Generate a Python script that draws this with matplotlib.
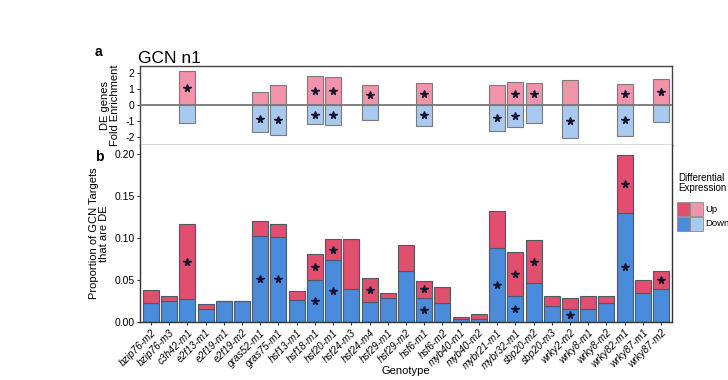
import numpy as np
import matplotlib
matplotlib.use('Agg')
from matplotlib import pyplot as plt
from matplotlib.patches import Rectangle

plt.rcParams['font.family'] = ['Liberation Sans', 'DejaVu Sans']
plt.rcParams['axes.unicode_minus'] = False

genotypes = ['bzip76-m2', 'bzip76-m3', 'c3h42-m1', 'e2f13-m1', 'e2f19-m1', 'e2f19-m2',
             'gras52-m1', 'gras75-m1', 'hsf13-m1', 'hsf18-m1', 'hsf20-m1', 'hsf24-m3',
             'hsf24-m4', 'hsf29-m1', 'hsf29-m2', 'hsf6-m1', 'hsf6-m2', 'myb40-m1',
             'myb40-m2', 'mybr21-m1', 'mybr32-m1', 'sbp20-m2', 'sbp20-m3', 'wrky2-m2',
             'wrky8-m1', 'wrky8-m2', 'wrky82-m1', 'wrky87-m1', 'wrky87-m2']

# panel b: proportion of GCN targets that are DE
prop_down = [0.022, 0.025, 0.027, 0.016, 0.025, 0.025, 0.102, 0.101, 0.026, 0.050,
             0.074, 0.039, 0.024, 0.029, 0.060, 0.029, 0.023, 0.003, 0.004, 0.088,
             0.031, 0.046, 0.019, 0.016, 0.016, 0.022, 0.130, 0.035, 0.039]
prop_up = [0.016, 0.006, 0.089, 0.005, 0.0, 0.0, 0.018, 0.015, 0.011, 0.031,
           0.024, 0.059, 0.028, 0.005, 0.031, 0.020, 0.018, 0.0035, 0.005, 0.044,
           0.052, 0.051, 0.012, 0.012, 0.015, 0.009, 0.068, 0.015, 0.021]

# panel a: fold enrichment of DE genes (nan = not shown)
nan = np.nan
fold_up = [nan, nan, 2.08, nan, nan, nan, 0.82, 1.22, nan, 1.77, 1.71, nan, 1.22, nan, nan,
           1.34, nan, nan, nan, 1.22, 1.40, 1.38, nan, 1.53, nan, nan, 1.30, nan, 1.59]
fold_down = [nan, nan, -1.13, nan, nan, nan, -1.69, -1.86, nan, -1.20, -1.24, nan, -0.93, nan, nan,
             -1.28, nan, nan, nan, -1.63, -1.38, -1.13, nan, -2.02, nan, nan, -1.90, nan, -1.07]

# significance stars
star_up = ['c3h42-m1', 'hsf18-m1', 'hsf20-m1', 'hsf24-m4', 'hsf6-m1', 'mybr32-m1',
           'sbp20-m2', 'wrky82-m1', 'wrky87-m2']
star_down = ['gras52-m1', 'gras75-m1', 'hsf18-m1', 'hsf20-m1', 'hsf6-m1', 'mybr21-m1',
             'mybr32-m1', 'wrky2-m2', 'wrky82-m1']

UP_DARK, UP_LIGHT = '#e04f6e', '#f193aa'
DOWN_DARK, DOWN_LIGHT = '#4a8cdb', '#a9c9ef'
STAR = '#151530'

x = np.arange(len(genotypes))
prop_down = np.array(prop_down)
prop_up = np.array(prop_up)
fold_up = np.array(fold_up)
fold_down = np.array(fold_down)
up_idx = [genotypes.index(g) for g in star_up]
down_idx = [genotypes.index(g) for g in star_down]

fig = plt.figure(figsize=(7.28, 3.8), dpi=100)
ax_a = fig.add_axes([0.1923, 0.6184, 0.7308, 0.2079])
ax_b = fig.add_axes([0.1923, 0.1526, 0.7308, 0.4658])

# ---- panel a
ok = ~np.isnan(fold_up)
ax_a.bar(x[ok], fold_up[ok], width=0.88, color=UP_LIGHT, edgecolor='#7a7a7a', linewidth=0.8)
ax_a.bar(x[ok], fold_down[ok], width=0.88, color=DOWN_LIGHT, edgecolor='#7a7a7a', linewidth=0.8)
ax_a.axhline(0, color='#777777', lw=1.3, zorder=3)
ax_a.plot(x[up_idx], fold_up[up_idx] / 2, ls='none', marker='*', ms=5.5, color=STAR, zorder=4)
ax_a.plot(x[down_idx], fold_down[down_idx] / 2, ls='none', marker='*', ms=5.5, color=STAR, zorder=4)
ax_a.set_xlim(-0.6, 28.6)
ax_a.set_ylim(-2.47, 2.41)
ax_a.set_yticks([-2, -1, 0, 1, 2])
ax_a.set_xticks(x)
ax_a.set_xticklabels([])
ax_a.tick_params(axis='both', length=2.5, width=0.8, color='#333333', labelsize=7.5, pad=1.5)
ax_a.set_ylabel('DE genes\nFold Enrichment', fontsize=8, labelpad=4, linespacing=0.95)
for s in ax_a.spines.values():
    s.set_color('#444444')
    s.set_linewidth(1.0)
ax_a.set_title('GCN n1', fontsize=12.5, loc='left', pad=2, x=-0.003)

# ---- panel b
ax_b.bar(x, prop_down, width=0.88, color=DOWN_DARK, edgecolor='#505868', linewidth=0.8)
ax_b.bar(x, prop_up, bottom=prop_down, width=0.88, color=UP_DARK, edgecolor='#505868',
         linewidth=0.8)
ax_b.plot(x[up_idx], prop_down[up_idx] + prop_up[up_idx] / 2, ls='none', marker='*', ms=5.5,
          color=STAR, zorder=4)
ax_b.plot(x[down_idx], prop_down[down_idx] / 2, ls='none', marker='*', ms=5.5, color=STAR,
          zorder=4)
ax_b.set_xlim(-0.6, 28.6)
ax_b.set_ylim(0, 0.2102)
ax_b.set_yticks([0, 0.05, 0.10, 0.15, 0.20])
ax_b.set_yticklabels(['0.00', '0.05', '0.10', '0.15', '0.20'])
ax_b.set_xticks(x)
ax_b.set_xticklabels(genotypes, rotation=45, ha='right', rotation_mode='anchor',
                     fontsize=7.2, style='italic')
ax_b.tick_params(axis='both', length=2.5, width=0.8, color='#333333', labelsize=7.5, pad=1.5)
ax_b.tick_params(axis='x', labelsize=7.2)
ax_b.set_ylabel('Proportion of GCN Targets\nthat are DE', fontsize=8, labelpad=4,
                linespacing=0.95)
ax_b.set_xlabel('Genotype', fontsize=8, va='center')
ax_b.xaxis.set_label_coords(0.5, -0.275)
ax_b.spines['top'].set_visible(False)
for k in ['left', 'bottom', 'right']:
    ax_b.spines[k].set_color('#333333')
    ax_b.spines[k].set_linewidth(1.0)

fig.text(95 / 728, 1 - 52 / 380, 'a', fontsize=10, fontweight='bold', va='center', ha='left')
fig.text(95 / 728, 1 - 157 / 380, 'b', fontsize=10, fontweight='bold', va='center', ha='left')

# ---- legend (two swatches per row: panel b colour, panel a colour)
fig.text(678 / 728, 1 - 183 / 380, 'Differential\nExpression', fontsize=7, va='center',
         ha='left', linespacing=0.95)
rows = [('Up', UP_DARK, UP_LIGHT), ('Down', DOWN_DARK, DOWN_LIGHT)]
for i, (lab, c1, c2) in enumerate(rows):
    y0 = 1 - (216 + i * 15) / 380
    for j, c in enumerate([c1, c2]):
        fig.patches.append(Rectangle(((677 + j * 13) / 728, y0), 13 / 728, 14 / 380,
                                     transform=fig.transFigure, facecolor=c,
                                     edgecolor='#8a8a8a', linewidth=0.6))
    fig.text(705 / 728, y0 + 7 / 380, lab, fontsize=6.8, va='center', ha='left')

fig.savefig('out.png', dpi=100)
